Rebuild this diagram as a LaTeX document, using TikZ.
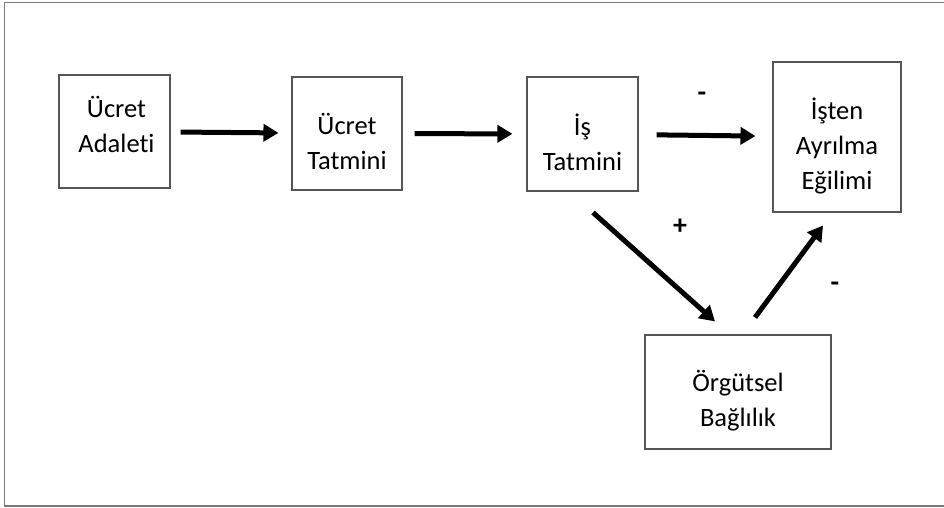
\documentclass[tikz,border=0pt]{standalone}
\usepackage{fontspec}
\setmainfont{Carlito}[Ligatures=NoCommon]
\usetikzlibrary{arrows.meta,calc}
\definecolor{framegray}{RGB}{120,120,120}
\definecolor{boxgray}{RGB}{85,85,85}
\begin{document}
\begin{tikzpicture}[x=1pt,y=-1pt,
  box/.style={draw=boxgray,line width=1.1pt,inner sep=0pt,rectangle},
  txt/.style={align=center,font=\fontsize{26.5}{35}\selectfont,inner sep=0pt},
  sign/.style={font=\fontsize{28}{30}\selectfont\bfseries,inner sep=0pt},
  arr/.style={line width=5pt,-{Triangle[length=15pt,width=17pt]}}]
\useasboundingbox (0,0) rectangle (944,508);
\draw[draw=framegray,line width=1.6pt] (950,2.5) -- (4.5,2.5) -- (4.5,506) -- (950,506);

\node[box,minimum width=111pt,minimum height=113pt] (ua) at (114.5,131.5) {};
\node[box,minimum width=110pt,minimum height=113pt] (ut) at (347,133.5) {};
\node[box,minimum width=111pt,minimum height=114pt] (it) at (582.5,134) {};
\node[box,minimum width=128pt,minimum height=150pt] (ia) at (837,137) {};
\node[box,minimum width=186pt,minimum height=114pt] (ob) at (738,392) {};

\node[txt] (uat) at ([shift={(2,-7)}]ua.center) {Ücret\\Adaleti};
\node[txt] (utt) at ([yshift=-8]ut.center) {Ücret\\Tatmini};
\node[txt] (itt) at ([yshift=-8]it.center) {İş\\Tatmini};
\node[txt] (iat) at ([yshift=-9]ia.center) {İşten\\Ayrılma\\Eğilimi};
\node[txt] (obt) at ([yshift=-9]ob.center) {Örgütsel\\Bağlılık};

\draw[arr,shorten <=10pt,shorten >=13pt] (ua) -- (ut);
\draw[arr,shorten <=12pt,shorten >=14pt] (ut) -- (it);
\draw[arr,shorten <=18pt,shorten >=17pt] (it) -- (ia);
\draw[arr] ([shift={(10.5,21)}]it.south) -- ([shift={(-23,-13)}]ob.north);
\draw[arr] ([shift={(17,-17)}]ob.north) -- ([shift={(-14,13)}]ia.south);

\node[sign] (m1) at (702,97) {-};
\node[sign] (p1) at (680,227) {+};
\node[sign] (m2) at (835,287) {-};
\end{tikzpicture}
\end{document}
